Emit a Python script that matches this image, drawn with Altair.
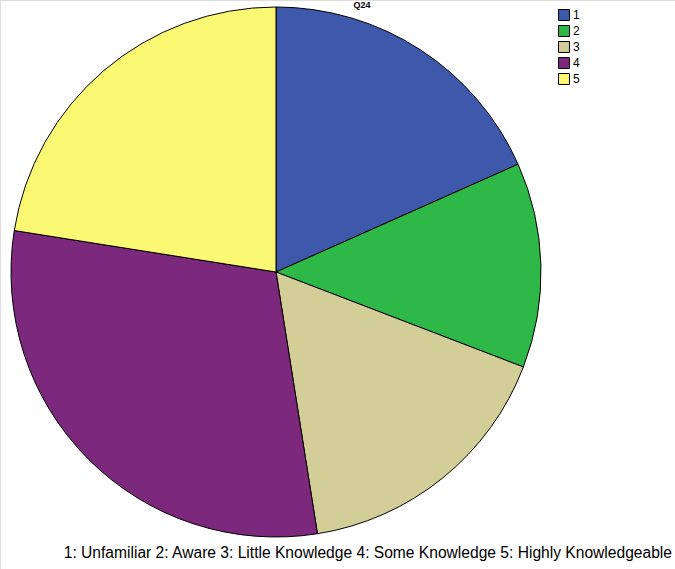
import altair as alt
import pandas as pd

categories = ["1", "2", "3", "4", "5"]
counts = [22, 15, 20, 36, 27]
colors = ["#3E58AC", "#2EB848", "#D3CE97", "#7C287D", "#FBF873"]
caption = ["1: Unfamiliar 2: Aware 3: Little Knowledge 4: Some Knowledge 5: Highly Knowledgeable"]
title_text = ["Q24"]

df = pd.DataFrame({"cat": categories, "count": counts, "ord": list(range(len(categories)))})

pie = alt.Chart(df).mark_arc(outerRadius=265, stroke="#000000", strokeWidth=1).encode(
    theta=alt.Theta("count:Q", stack=True),
    order=alt.Order("ord:Q"),
    x=alt.value(276),
    y=alt.value(272),
    color=alt.Color(
        "cat:N",
        scale=alt.Scale(domain=categories, range=colors),
        legend=alt.Legend(
            title=None,
            orient="none",
            legendX=558,
            legendY=9,
            symbolType="square",
            symbolSize=120,
            symbolStrokeColor="#000000",
            symbolStrokeWidth=1,
            labelFont="Liberation Sans",
            labelFontSize=12,
            labelColor="#000000",
            rowPadding=0,
            labelOffset=3,
        ),
    ),
)

cap = alt.Chart(pd.DataFrame({"t": caption})).mark_text(
    align="right", baseline="alphabetic", font="Liberation Sans", fontSize=15.6, color="#000000"
).encode(text="t:N", x=alt.value(672), y=alt.value(558))

ttl = alt.Chart(pd.DataFrame({"t": title_text})).mark_text(
    align="center", baseline="alphabetic", font="Liberation Sans", fontSize=9, fontWeight="bold", color="#000000"
).encode(text="t:N", x=alt.value(362), y=alt.value(8))

chart = alt.layer(pie, cap, ttl).properties(
    width=675, height=569, padding=0, autosize=alt.AutoSizeParams(type="none")
).configure_view(stroke=None).configure(background="#ffffff")

chart.save("out.html", embed_options={"renderer": "svg", "actions": False})
